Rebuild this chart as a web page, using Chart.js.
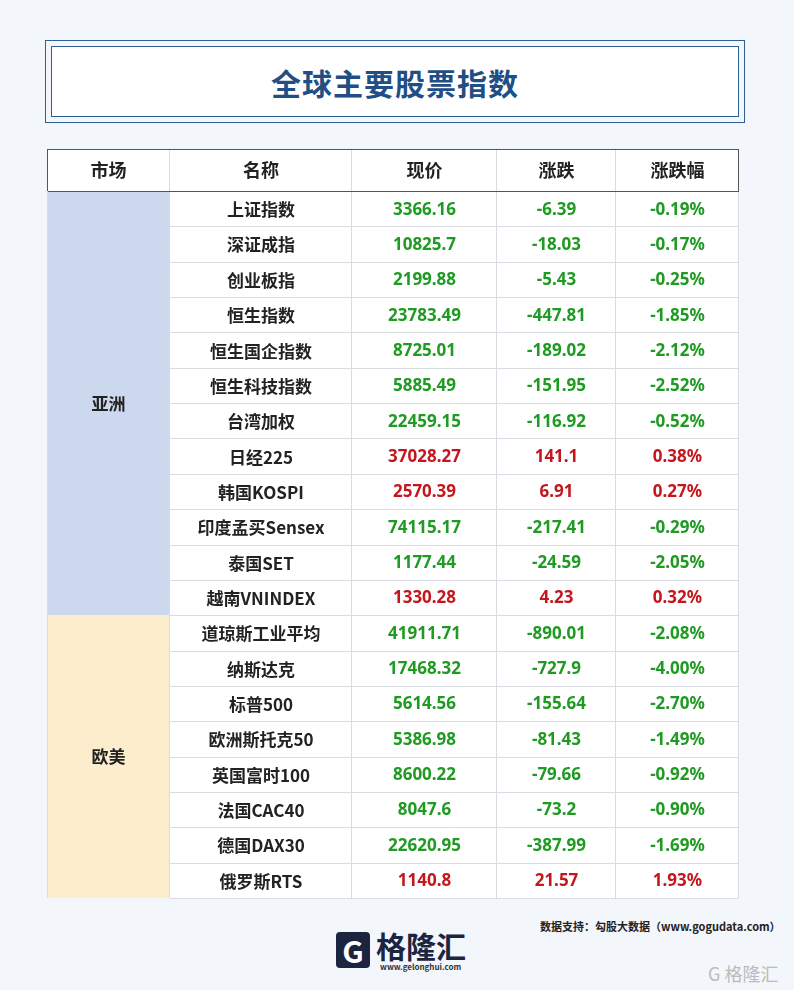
<!DOCTYPE html>
<html><head><meta charset="utf-8">
<script src="https://cdn.jsdelivr.net/npm/chart.js@4"></script>
<style>
body{margin:0;width:794px;height:990px;background:#f3f6fb;font-family:"Noto Sans CJK SC","Noto Sans",sans-serif;position:relative;overflow:hidden}
#tb{position:absolute;left:45px;top:40px;width:700px;height:83px;border:1px solid #2d5f95;box-sizing:border-box}
#tb div{position:absolute;left:5px;top:5px;right:5px;bottom:5px;border:1px solid #2d5f95;background:#fff;display:flex;align-items:center;justify-content:center;font-size:30px;font-weight:bold;color:#1f4f85;letter-spacing:1px}
#c{position:absolute;left:47px;top:149px}
#src{position:absolute;left:540px;top:918px;font-size:11px;font-weight:bold;color:#222}
#logo{position:absolute;left:336px;top:923px;font-size:30px;font-weight:bold;color:#1c2540}
#logo span{display:inline-block;width:34px;height:36px;background:#1c2540;color:#fff;text-align:center;line-height:36px;border-radius:4px;margin-right:6px;vertical-align:middle}
#logo small{position:absolute;left:44px;top:38px;font-size:8px;color:#333}
#wm{position:absolute;left:708px;top:960px;font-size:18px;color:#bbb}
</style></head><body>
<div id="tb"><div>全球主要股票指数</div></div>
<canvas id="c" width="692" height="750"></canvas>
<div id="logo"><span>G</span>格隆汇<small>www.gelonghui.com</small></div>
<div id="src">数据支持：勾股大数据（www.gogudata.com）</div>
<div id="wm">G 格隆汇</div>
<script>
const headers = ['市场', '名称', '现价', '涨跌', '涨跌幅'];
const markets = [{ name: '亚洲', rows: 12, color: '#ccd8ee' }, { name: '欧美', rows: 8, color: '#fcedcc' }];
const names = ['上证指数','深证成指','创业板指','恒生指数','恒生国企指数','恒生科技指数','台湾加权','日经225','韩国KOSPI','印度孟买Sensex','泰国SET','越南VNINDEX','道琼斯工业平均','纳斯达克','标普500','欧洲斯托克50','英国富时100','法国CAC40','德国DAX30','俄罗斯RTS'];
const prices = ['3366.16','10825.7','2199.88','23783.49','8725.01','5885.49','22459.15','37028.27','2570.39','74115.17','1177.44','1330.28','41911.71','17468.32','5614.56','5386.98','8600.22','8047.6','22620.95','1140.8'];
const changes = ['-6.39','-18.03','-5.43','-447.81','-189.02','-151.95','-116.92','141.1','6.91','-217.41','-24.59','4.23','-890.01','-727.9','-155.64','-81.43','-79.66','-73.2','-387.99','21.57'];
const pcts = ['-0.19%','-0.17%','-0.25%','-1.85%','-2.12%','-2.52%','-0.52%','0.38%','0.27%','-0.29%','-2.05%','0.32%','-2.08%','-4.00%','-2.70%','-1.49%','-0.92%','-0.90%','-1.69%','1.93%'];
const colEdges = [0, 123, 305, 450, 569, 692];
const headerH = 42, rowH = 35.35;

const tablePlugin = {
  id: 'table',
  afterDatasetsDraw(chart) {
    const { ctx, scales: { x, y } } = chart;
    const X = v => x.getPixelForValue(v);
    const Y = i => y.getPixelForValue(i === 0 ? 0 : headerH + (i - 1) * rowH);
    ctx.save();
    ctx.textAlign = 'center'; ctx.textBaseline = 'middle';
    ctx.fillStyle = '#fff';
    ctx.fillRect(X(0), Y(0), X(692) - X(0), Y(1) - Y(0));
    let r = 1;
    markets.forEach(m => {
      ctx.fillStyle = m.color;
      ctx.fillRect(X(0), Y(r), X(123) - X(0), Y(r + m.rows) - Y(r));
      ctx.fillStyle = '#222'; ctx.font = 'bold 17px "Noto Sans CJK SC"';
      ctx.fillText(m.name, (X(0) + X(123)) / 2, (Y(r) + Y(r + m.rows)) / 2);
      r += m.rows;
    });
    ctx.fillStyle = '#fff';
    ctx.fillRect(X(123), Y(1), X(692) - X(123), Y(21) - Y(1));
    ctx.strokeStyle = '#d9dde3'; ctx.lineWidth = 1;
    for (let i = 1; i <= 21; i++) {
      ctx.beginPath(); ctx.moveTo(X(123), Math.round(Y(i)) + 0.5); ctx.lineTo(X(692), Math.round(Y(i)) + 0.5); ctx.stroke();
    }
    colEdges.slice(1).forEach(c => {
      ctx.beginPath(); ctx.moveTo(X(c) - 0.5, Y(0)); ctx.lineTo(X(c) - 0.5, Y(21)); ctx.stroke();
    });
    ctx.strokeStyle = '#555';
    ctx.strokeRect(X(0) + 0.5, Y(0) + 0.5, X(692) - X(0) - 1, Y(1) - Y(0));
    ctx.beginPath(); ctx.moveTo(X(0) + 0.5, Y(1)); ctx.lineTo(X(0) + 0.5, Y(21)); ctx.strokeStyle = '#ddd'; ctx.stroke();
    ctx.fillStyle = '#222'; ctx.font = 'bold 18px "Noto Sans CJK SC"';
    headers.forEach((h, i) => ctx.fillText(h, (X(colEdges[i]) + X(colEdges[i + 1])) / 2, (Y(0) + Y(1)) / 2));
    names.forEach((n, i) => {
      const cy = (Y(i + 1) + Y(i + 2)) / 2 + 1;
      const col = changes[i].startsWith('-') ? '#1f9a22' : '#c4161c';
      [n, prices[i], changes[i], pcts[i]].forEach((v, j) => {
        ctx.fillStyle = j === 0 ? '#222' : col;
        ctx.font = j === 0 ? 'bold 17px "Noto Sans CJK SC"' : 'bold 17px "Noto Sans"';
        ctx.fillText(v, (X(colEdges[j + 1]) + X(colEdges[j + 2])) / 2, cy);
      });
    });
    ctx.restore();
  }
};

new Chart(document.getElementById('c'), {
  type: 'scatter',
  data: { datasets: [{ data: names.map((n, i) => ({ x: 0, y: headerH + (i + 0.5) * rowH })), pointRadius: 0 }] },
  options: {
    responsive: false, animation: false,
    layout: { padding: 0 },
    plugins: { legend: { display: false }, tooltip: { enabled: false } },
    scales: {
      x: { type: 'linear', min: 0, max: 692, display: false },
      y: { type: 'linear', min: 0, max: 750, reverse: true, display: false }
    }
  },
  plugins: [tablePlugin]
});
</script>
</body></html>
